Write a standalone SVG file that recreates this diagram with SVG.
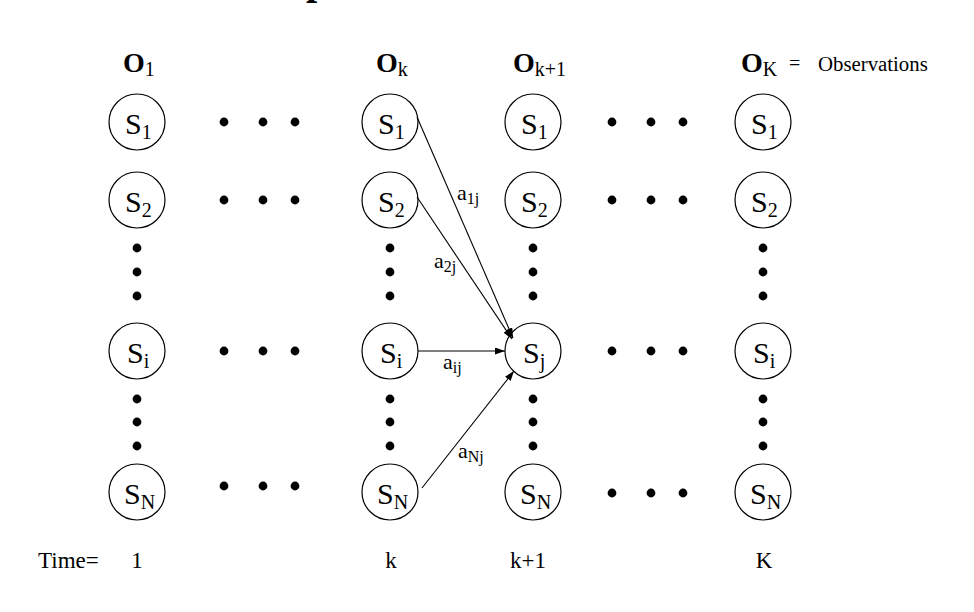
<svg xmlns="http://www.w3.org/2000/svg" width="974" height="612" viewBox="0 0 974 612">
<defs>
<style>
text{font-family:"Liberation Serif","Times New Roman",serif;fill:#000}
.st{fill:#fff;stroke:#000;stroke-width:1.2}
.s{font-size:30px}
.sub{font-size:20px}
.o{font-size:28px;font-weight:bold}
.osub{font-size:20px;font-weight:normal}
.lbl{font-size:22px}
.lsub{font-size:16px}
.t{font-size:23px}
.dot{fill:#000}
.edge{stroke:#000;stroke-width:1.1;fill:none;marker-end:url(#ah)}
</style>
<marker id="ah" markerUnits="userSpaceOnUse" markerWidth="11" markerHeight="8" refX="10" refY="3.5" orient="auto">
<path d="M0,0 L10,3.5 L0,7 z" fill="#000"/>
</marker>
</defs>
<rect width="974" height="612" fill="#fff"/>
<text x="306" y="-6.5" style="font-size:40px;font-weight:bold">p</text>

<g id="observations">
<text class="o" x="123" y="72">O<tspan class="osub" dy="4">1</tspan></text>
<text class="o" x="376" y="72">O<tspan class="osub" dy="4">k</tspan></text>
<text class="o" x="513" y="72">O<tspan class="osub" dy="4">k+1</tspan></text>
<text class="o" x="741" y="72">O<tspan class="osub" dy="4">K</tspan></text>
<text x="789" y="70" style="font-size:20px">=</text>
<text x="818" y="71" style="font-size:20.8px">Observations</text>
</g>

<g id="col1">
<g id="c1_s1"><circle class="st" cx="137" cy="122" r="28"/><text class="s" x="125" y="134">S<tspan class="sub" dy="5">1</tspan></text></g>
<g id="c1_s2"><circle class="st" cx="137" cy="200" r="28"/><text class="s" x="125" y="212">S<tspan class="sub" dy="5">2</tspan></text></g>
<g id="c1_si"><circle class="st" cx="137" cy="351" r="28"/><text class="s" x="127" y="363">S<tspan class="sub" dy="5">i</tspan></text></g>
<g id="c1_sn"><circle class="st" cx="137" cy="492" r="28"/><text class="s" x="124" y="504">S<tspan class="sub" dy="5">N</tspan></text></g>
</g>

<g id="colk">
<g id="ck_s1"><circle class="st" cx="390" cy="122" r="28"/><text class="s" x="378" y="134">S<tspan class="sub" dy="5">1</tspan></text></g>
<g id="ck_s2"><circle class="st" cx="390" cy="200" r="28"/><text class="s" x="378" y="212">S<tspan class="sub" dy="5">2</tspan></text></g>
<g id="ck_si"><circle class="st" cx="390" cy="351" r="28"/><text class="s" x="380" y="363">S<tspan class="sub" dy="5">i</tspan></text></g>
<g id="ck_sn"><circle class="st" cx="390" cy="492" r="28"/><text class="s" x="377" y="504">S<tspan class="sub" dy="5">N</tspan></text></g>
</g>

<g id="colk1">
<g id="ck1_s1"><circle class="st" cx="533" cy="122" r="28"/><text class="s" x="521" y="134">S<tspan class="sub" dy="5">1</tspan></text></g>
<g id="ck1_s2"><circle class="st" cx="533" cy="200" r="28"/><text class="s" x="521" y="212">S<tspan class="sub" dy="5">2</tspan></text></g>
<g id="ck1_sj"><circle class="st" cx="533" cy="351" r="28"/><text class="s" x="523" y="363">S<tspan class="sub" dy="5">j</tspan></text></g>
<g id="ck1_sn"><circle class="st" cx="533" cy="492" r="28"/><text class="s" x="520" y="504">S<tspan class="sub" dy="5">N</tspan></text></g>
</g>

<g id="colK">
<g id="cK_s1"><circle class="st" cx="763" cy="122" r="28"/><text class="s" x="751" y="134">S<tspan class="sub" dy="5">1</tspan></text></g>
<g id="cK_s2"><circle class="st" cx="763" cy="200" r="28"/><text class="s" x="751" y="212">S<tspan class="sub" dy="5">2</tspan></text></g>
<g id="cK_si"><circle class="st" cx="763" cy="351" r="28"/><text class="s" x="753" y="363">S<tspan class="sub" dy="5">i</tspan></text></g>
<g id="cK_sn"><circle class="st" cx="763" cy="492" r="28"/><text class="s" x="750" y="504">S<tspan class="sub" dy="5">N</tspan></text></g>
</g>

<g id="dots">
<g class="dot">
<circle cx="224" cy="122" r="4.4"/><circle cx="263" cy="122" r="4.4"/><circle cx="295" cy="122" r="4.4"/>
<circle cx="224" cy="200" r="4.4"/><circle cx="263" cy="200" r="4.4"/><circle cx="295" cy="200" r="4.4"/>
<circle cx="224" cy="351" r="4.4"/><circle cx="263" cy="351" r="4.4"/><circle cx="295" cy="351" r="4.4"/>
<circle cx="224" cy="486" r="4.4"/><circle cx="263" cy="486" r="4.4"/><circle cx="295" cy="486" r="4.4"/>
<circle cx="612" cy="122" r="4.4"/><circle cx="651" cy="122" r="4.4"/><circle cx="683" cy="122" r="4.4"/>
<circle cx="612" cy="200" r="4.4"/><circle cx="651" cy="200" r="4.4"/><circle cx="683" cy="200" r="4.4"/>
<circle cx="612" cy="351" r="4.4"/><circle cx="651" cy="351" r="4.4"/><circle cx="683" cy="351" r="4.4"/>
<circle cx="612" cy="493" r="4.4"/><circle cx="651" cy="493" r="4.4"/><circle cx="683" cy="493" r="4.4"/>
<circle cx="137" cy="248" r="4.4"/><circle cx="137" cy="272" r="4.4"/><circle cx="137" cy="296" r="4.4"/>
<circle cx="137" cy="399" r="4.4"/><circle cx="137" cy="422" r="4.4"/><circle cx="137" cy="446" r="4.4"/>
<circle cx="390" cy="248" r="4.4"/><circle cx="390" cy="272" r="4.4"/><circle cx="390" cy="296" r="4.4"/>
<circle cx="390" cy="399" r="4.4"/><circle cx="390" cy="422" r="4.4"/><circle cx="390" cy="446" r="4.4"/>
<circle cx="533" cy="248" r="4.4"/><circle cx="533" cy="272" r="4.4"/><circle cx="533" cy="296" r="4.4"/>
<circle cx="533" cy="399" r="4.4"/><circle cx="533" cy="422" r="4.4"/><circle cx="533" cy="446" r="4.4"/>
<circle cx="763" cy="248" r="4.4"/><circle cx="763" cy="272" r="4.4"/><circle cx="763" cy="296" r="4.4"/>
<circle cx="763" cy="399" r="4.4"/><circle cx="763" cy="422" r="4.4"/><circle cx="763" cy="446" r="4.4"/>
</g>
</g>

<g id="connectors">
<line class="edge" x1="417" y1="117" x2="513" y2="338"/>
<line class="edge" x1="417" y1="197" x2="512" y2="339"/>
<line class="edge" x1="418" y1="351" x2="505" y2="351"/>
<line class="edge" x1="422" y1="488" x2="514" y2="371"/>
<text class="lbl" x="457" y="200">a<tspan class="lsub" dy="4">1j</tspan></text>
<text class="lbl" x="434" y="268">a<tspan class="lsub" dy="4">2j</tspan></text>
<text class="lbl" x="443" y="369">a<tspan class="lsub" dy="4">ij</tspan></text>
<text class="lbl" x="458" y="458">a<tspan class="lsub" dy="4">Nj</tspan></text>
</g>

<g id="time">
<text class="t" x="38" y="568">Time=</text>
<text class="t" x="137" y="568" text-anchor="middle">1</text>
<text class="t" x="391" y="568" text-anchor="middle">k</text>
<text class="t" x="528" y="568" text-anchor="middle">k+1</text>
<text class="t" x="764" y="568" text-anchor="middle">K</text>
</g>
</svg>
